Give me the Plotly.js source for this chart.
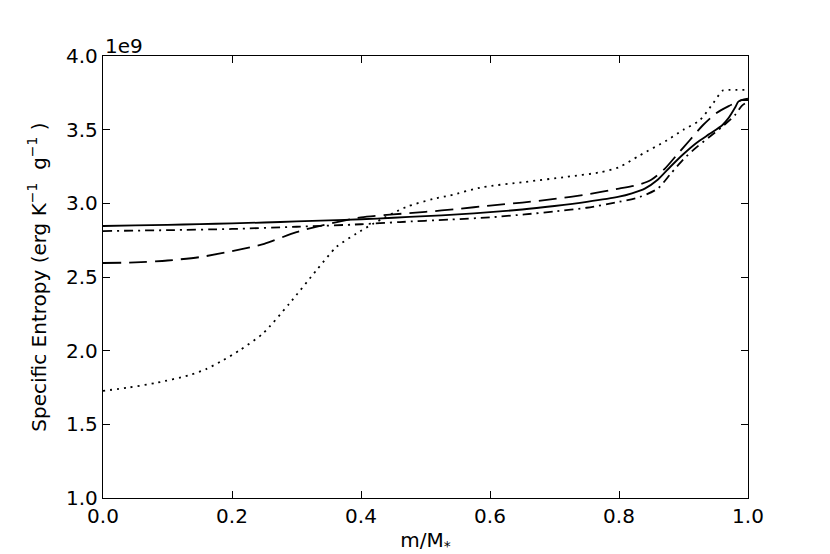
<!DOCTYPE html>
<html>
<head>
<meta charset="utf-8">
<script src="https://cdn.plot.ly/plotly-3.0.1.min.js"></script>
<style>
  body { margin: 0; background: white; }
  #chart { width: 830px; height: 554px; }
</style>
</head>
<body>
<div id="chart"></div>
<script>
// Entropia especifica (unidades de 1e9 erg K^-1 g^-1) frente a m/M*
const xSolid = [0, 0.05, 0.1, 0.15, 0.2, 0.25, 0.3, 0.35, 0.4, 0.45, 0.5, 0.55, 0.6, 0.65, 0.7, 0.75, 0.8, 0.82, 0.84, 0.86, 0.88, 0.9, 0.92, 0.94, 0.96, 0.97, 0.98, 0.985, 0.99, 1.0];
const sSolid = [2.846, 2.850, 2.854, 2.859, 2.864, 2.870, 2.877, 2.884, 2.892, 2.902, 2.913, 2.925, 2.940, 2.958, 2.982, 3.010, 3.045, 3.068, 3.100, 3.160, 3.250, 3.335, 3.410, 3.470, 3.530, 3.580, 3.650, 3.690, 3.700, 3.700];

const xDash = [0, 0.05, 0.1, 0.15, 0.2, 0.25, 0.3, 0.35, 0.4, 0.45, 0.5, 0.55, 0.6, 0.65, 0.7, 0.75, 0.8, 0.83, 0.85, 0.87, 0.89, 0.91, 0.93, 0.95, 0.97, 0.99, 1.0];
const sDash = [2.595, 2.599, 2.612, 2.635, 2.675, 2.725, 2.805, 2.860, 2.905, 2.925, 2.942, 2.962, 2.985, 3.005, 3.030, 3.060, 3.100, 3.125, 3.160, 3.230, 3.330, 3.430, 3.530, 3.610, 3.660, 3.700, 3.710];

const xDot = [0, 0.04, 0.083, 0.134, 0.16, 0.186, 0.212, 0.248, 0.289, 0.331, 0.362, 0.393, 0.419, 0.47, 0.512, 0.538, 0.589, 0.654, 0.719, 0.77, 0.8, 0.832, 0.874, 0.9, 0.925, 0.946, 0.961, 0.97, 1.0];
const sDot = [1.727, 1.750, 1.782, 1.834, 1.875, 1.935, 2.003, 2.117, 2.320, 2.546, 2.704, 2.795, 2.862, 2.975, 3.030, 3.054, 3.110, 3.145, 3.180, 3.210, 3.245, 3.325, 3.427, 3.500, 3.563, 3.680, 3.766, 3.770, 3.770];

const xDashDot = [0, 0.1, 0.2, 0.3, 0.4, 0.46, 0.538, 0.6, 0.654, 0.7, 0.75, 0.8, 0.832, 0.86, 0.88, 0.9, 0.92, 0.94, 0.96, 0.98, 0.99, 1.0];
const sDashDot = [2.812, 2.818, 2.826, 2.841, 2.858, 2.873, 2.890, 2.905, 2.925, 2.945, 2.970, 3.010, 3.043, 3.100, 3.200, 3.300, 3.380, 3.450, 3.520, 3.600, 3.660, 3.690];

const yTicks = [1.0, 1.5, 2.0, 2.5, 3.0, 3.5, 4.0];
const xTicks = [0.0, 0.2, 0.4, 0.6, 0.8, 1.0];

function linea(dash) {
  return { color: 'black', width: 1.8, dash: dash, shape: 'spline', smoothing: 0.7 };
}

const traces = [
  { x: xSolid, y: sSolid, mode: 'lines', line: linea('solid') },
  { x: xDash, y: sDash, mode: 'lines', line: linea('18px,8px') },
  { x: xDot, y: sDot, mode: 'lines', line: linea('2px,5px') },
  { x: xDashDot, y: sDashDot, mode: 'lines', line: linea('9px,5px,2px,5px') }
];

const ejeComun = {
  showgrid: false,
  zeroline: false,
  showline: true,
  linecolor: 'black',
  linewidth: 1.2,
  mirror: 'allticks',
  ticks: 'inside',
  ticklen: 7,
  tickcolor: 'black',
  tickwidth: 1,
  tickformat: '.1f',
  tickfont: { size: 20, color: 'black' }
};

const layout = {
  width: 830,
  height: 554,
  margin: { l: 103, r: 82, t: 56, b: 56 },
  paper_bgcolor: 'white',
  plot_bgcolor: 'white',
  showlegend: false,
  font: { family: 'DejaVu Sans', color: 'black' },
  xaxis: Object.assign({}, ejeComun, {
    range: [0, 1],
    tickvals: xTicks,
    title: { text: 'm/M<sub>*</sub>', font: { size: 20 }, standoff: 8 }
  }),
  yaxis: Object.assign({}, ejeComun, {
    range: [1, 4],
    tickvals: yTicks,
    title: { text: 'Specific Entropy (erg K<sup>−1</sup>  g<sup>−1</sup> )', font: { size: 20 }, standoff: 14 }
  }),
  annotations: [{
    text: '1e9', xref: 'paper', yref: 'paper', x: 0, y: 1,
    xanchor: 'left', yanchor: 'bottom', showarrow: false,
    font: { size: 20, color: 'black' }, yshift: -4
  }]
};

Plotly.newPlot('chart', traces, layout, { displayModeBar: false, staticPlot: true });
</script>
</body>
</html>
